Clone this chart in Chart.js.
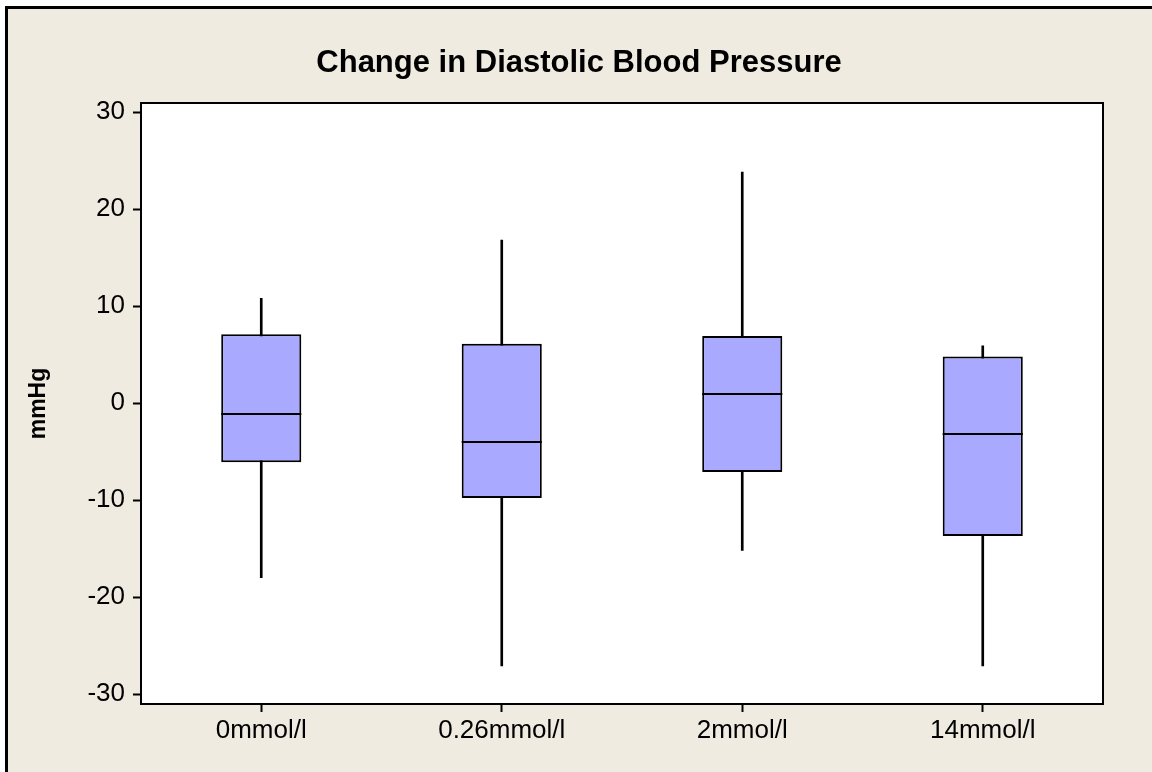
<!DOCTYPE html>
<html>
<head>
<meta charset="utf-8">
<script src="https://cdn.jsdelivr.net/npm/chart.js@4/dist/chart.umd.min.js"></script>
<style>
    html, body { margin: 0; padding: 0; background: #fff; }
    #frame {
        position: absolute; left: 5px; top: 6px; width: 1200px; height: 800px;
        border-left: 3px solid #000; border-top: 3px solid #000;
        background: #EFEBE0;
    }
    #wrap { position: absolute; left: 0; top: 0; width: 1152px; height: 772px; }
</style>
</head>
<body>
<div id="frame"></div>
<div id="wrap"><canvas id="box-chart" width="1152" height="772"></canvas></div>
<script>
// Change in diastolic blood pressure
const categories = ['0mmol/l', '0.26mmol/l', '2mmol/l', '14mmol/l'];
const whiskerLow = [-18.0, -27.1, -15.2, -27.1];
const q1 = [-6.1, -9.8, -7.1, -13.7];
const median = [-1.1, -4.0, 0.9, -3.2];
const q3 = [7.1, 6.1, 6.9, 4.8];
const whiskerHigh = [10.8, 16.8, 23.8, 5.9];
const yTicks = [-30, -20, -10, 0, 10, 20, 30];

const chartTitle = 'Change in Diastolic Blood Pressure';
const FONT = "'Liberation Sans', Arial, sans-serif";
const BOX_FILL = '#A9A9FF';

// white plot panel with black frame, title and median lines
const panelPlugin = {
    id: 'panel',
    beforeDatasetsDraw(chart) {
        const a = chart.chartArea, ctx = chart.ctx;
        ctx.save();
        ctx.fillStyle = '#fff';
        ctx.fillRect(a.left, a.top, a.right - a.left, a.bottom - a.top);
        ctx.restore();
    },
    afterDatasetsDraw(chart) {
        const ctx = chart.ctx, y = chart.scales.y;
        const boxes = chart.getDatasetMeta(1).data;
        ctx.save();
        ctx.strokeStyle = '#000';
        ctx.lineWidth = 2;
        boxes.forEach((bar, i) => {
            const py = Math.round(y.getPixelForValue(median[i]));
            ctx.beginPath();
            ctx.moveTo(bar.x - bar.width / 2, py);
            ctx.lineTo(bar.x + bar.width / 2, py);
            ctx.stroke();
        });
        ctx.restore();
    },
    afterDraw(chart) {
        const a = chart.chartArea, ctx = chart.ctx;
        ctx.save();
        ctx.strokeStyle = '#000';
        ctx.lineWidth = 2;
        ctx.strokeRect(a.left, a.top, a.right - a.left, a.bottom - a.top);
        ctx.fillStyle = '#000';
        ctx.font = 'bold 31px ' + FONT;
        ctx.textAlign = 'center';
        ctx.textBaseline = 'alphabetic';
        ctx.fillText(chartTitle, 579, 72);
        ctx.restore();
    }
};

new Chart(document.getElementById('box-chart'), {
    type: 'bar',
    data: {
        labels: categories,
        datasets: [
            {
                label: 'whisker',
                data: categories.map((c, i) => [whiskerLow[i], whiskerHigh[i]]),
                backgroundColor: '#000',
                borderWidth: 0,
                barThickness: 2,
                grouped: false,
                order: 2
            },
            {
                label: 'box',
                data: categories.map((c, i) => [q1[i], q3[i]]),
                backgroundColor: BOX_FILL,
                borderColor: '#000',
                borderWidth: 2,
                borderSkipped: false,
                barPercentage: 0.333,
                categoryPercentage: 1,
                grouped: false,
                order: 1
            }
        ]
    },
    options: {
        responsive: false,
        animation: false,
        layout: { padding: { top: 103, left: 0, right: 49, bottom: 0 } },
        plugins: {
            legend: { display: false },
            tooltip: { enabled: false },
            title: { display: false }
        },
        scales: {
            x: {
                afterFit(scale) { scale.height = 68; },
                border: { display: false },
                grid: {
                    display: true,
                    offset: false,
                    drawOnChartArea: false,
                    drawTicks: true,
                    tickLength: 8,
                    tickWidth: 2,
                    tickColor: '#000'
                },
                ticks: {
                    color: '#000',
                    padding: 3,
                    font: { family: FONT, size: 26 }
                }
            },
            y: {
                min: -31.03,
                max: 30.93,
                afterFit(scale) { scale.width = 141; },
                afterBuildTicks(scale) {
                    scale.ticks = yTicks.map(v => ({ value: v }));
                },
                border: { display: false },
                grid: {
                    display: true,
                    drawOnChartArea: false,
                    drawTicks: true,
                    tickLength: 8,
                    tickWidth: 2,
                    tickColor: '#000'
                },
                ticks: {
                    color: '#000',
                    padding: 8,
                    font: { family: FONT, size: 26 }
                },
                title: {
                    display: true,
                    text: 'mmHg',
                    color: '#000',
                    font: { family: FONT, size: 23, weight: 'bold' },
                    padding: { top: 25, bottom: 0 }
                }
            }
        }
    },
    plugins: [panelPlugin]
});
</script>
</body>
</html>
